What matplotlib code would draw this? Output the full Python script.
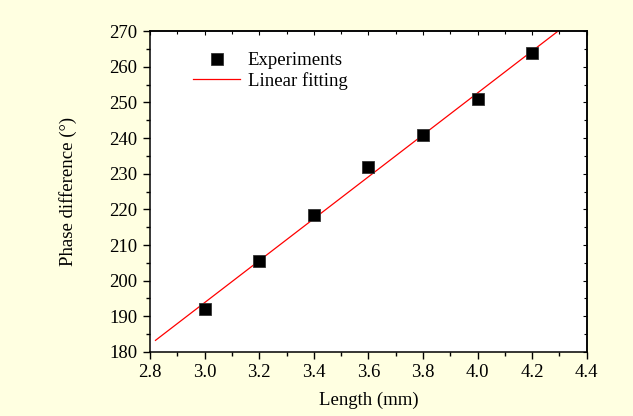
import numpy as np
import matplotlib
matplotlib.use('Agg')
import matplotlib.pyplot as plt
from matplotlib.ticker import MultipleLocator, FormatStrFormatter

# 実験データ
length_mm = [3.0, 3.2, 3.4, 3.6, 3.8, 4.0, 4.2]
phase_deg = [192.0, 205.5, 218.5, 232.0, 241.0, 251.0, 264.0]

# 直線フィット
slope, intercept = np.polyfit(length_mm, phase_deg, 1)
fit_x = np.linspace(2.82, 4.4, 50)
fit_y = slope * fit_x + intercept

plt.rcParams['font.family'] = ['Liberation Serif', 'DejaVu Serif']
plt.rcParams['mathtext.fontset'] = 'stix'

bg = '#FFFFE1'
fig = plt.figure(figsize=(6.33, 4.16), dpi=100, facecolor=bg)
ax = fig.add_axes([0.237, 0.154, 0.690, 0.771])
ax.set_facecolor('white')

ax.plot(fit_x, fit_y, color='red', lw=0.9, label='Linear fitting', zorder=2)
ax.plot(length_mm, phase_deg, 's', color='black', markersize=9.2,
        markeredgecolor='#333333', markeredgewidth=0.6,
        label='Experiments', zorder=3)

ax.set_xlim(2.8, 4.4)
ax.set_ylim(180, 270)
ax.xaxis.set_major_locator(MultipleLocator(0.2))
ax.xaxis.set_minor_locator(MultipleLocator(0.1))
ax.xaxis.set_major_formatter(FormatStrFormatter('%.1f'))
ax.yaxis.set_major_locator(MultipleLocator(10))
ax.yaxis.set_minor_locator(MultipleLocator(5))

for s in ax.spines.values():
    s.set_linewidth(1.1)

ax.tick_params(which='both', direction='out', top=False, right=False,
               labelsize=13.5, width=1.0, colors='black')
ax.tick_params(which='major', length=5, pad=4)
ax.tick_params(which='minor', length=3)

# 上・右の内向き目盛
secx = ax.secondary_xaxis('top')
secx.xaxis.set_major_locator(MultipleLocator(0.2))
secx.xaxis.set_minor_locator(MultipleLocator(0.1))
secx.tick_params(which='both', direction='in', labeltop=False, width=0.8)
secx.tick_params(which='major', length=3)
secx.tick_params(which='minor', length=2)
secx.spines['top'].set_linewidth(1.1)
secy = ax.secondary_yaxis('right')
secy.yaxis.set_major_locator(MultipleLocator(10))
secy.yaxis.set_minor_locator(MultipleLocator(5))
secy.tick_params(which='both', direction='in', labelright=False, width=0.8)
secy.tick_params(which='major', length=3)
secy.tick_params(which='minor', length=2)
secy.spines['right'].set_linewidth(1.1)

ax.set_xlabel('Length (mm)', fontsize=13.5, labelpad=7.5)
ax.set_ylabel('Phase difference (°)', fontsize=13.5, labelpad=23)

handles, labels = ax.get_legend_handles_labels()
leg = ax.legend(handles[::-1], labels[::-1], loc='upper left',
                bbox_to_anchor=(0.082, 0.958), frameon=False, fontsize=13.5,
                handlelength=2.5, handletextpad=0.4, labelspacing=0.15,
                borderaxespad=0)

fig.savefig('out.png', dpi=100, facecolor=bg)
